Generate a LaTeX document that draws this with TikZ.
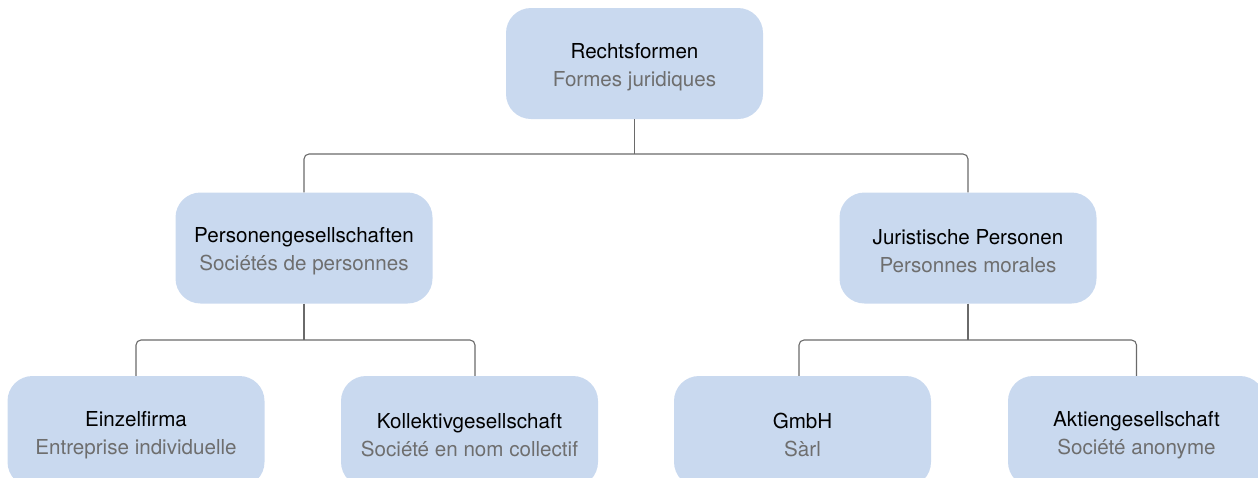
\documentclass[tikz,border=0pt]{standalone}
\usepackage{fontspec}
\setmainfont{TeX Gyre Heros}
\definecolor{boxfill}{HTML}{C9D9EF}
\definecolor{frtext}{HTML}{6E6E6E}
\definecolor{linegray}{HTML}{6A6A6A}
\newcommand{\two}[2]{{\color{black}#1}\\{\color{frtext}#2}}
\begin{document}
\begin{tikzpicture}[x=1pt,y=-1pt,
  formbox/.style={fill=boxfill, draw=none, rounded corners=25pt,
    minimum width=257pt, minimum height=111pt, inner sep=0pt},
  formtext/.style={align=center, inner sep=0pt, yshift=-3.5pt,
    font=\fontsize{20.6}{28}\selectfont},
  conn/.style={draw=linegray, line width=1.1pt, rounded corners=5pt}]
\path[use as bounding box, clip] (0,0) rectangle (1258,477);
\node[formbox] (top) at (634.5,63.5) {};
\node[formbox] (pg) at (304,248) {};
\node[formbox] (jp) at (968,248) {};
\node[formbox] (ef) at (136,431.5) {};
\node[formbox] (kg) at (469.5,431.5) {};
\node[formbox] (gm) at (802.5,431.5) {};
\node[formbox] (ag) at (1136.5,431.5) {};
\node[formtext] (topt) at (top.center) {\two{Rechtsformen}{Formes juridiques}};
\node[formtext] (pgt) at (pg.center) {\two{Personengesellschaften}{Sociétés de personnes}};
\node[formtext] (jpt) at (jp.center) {\two{Juristische Personen}{Personnes morales}};
\node[formtext] (eft) at (ef.center) {\two{Einzelfirma}{Entreprise individuelle}};
\node[formtext] (kgt) at (kg.center) {\two{Kollektivgesellschaft}{Société en nom collectif}};
\node[formtext] (gmt) at (gm.center) {\two{GmbH}{Sàrl}};
\node[formtext] (agt) at (ag.center) {\two{Aktiengesellschaft}{Société anonyme}};
\coordinate (j1) at (634.5,154);
\coordinate (j2) at (304,340);
\coordinate (j3) at (968,340);
\draw[conn] (top.south) -- (j1);
\draw[conn] (pg.north) |- (j1) -| (jp.north);
\draw[conn] (pg.south) -- (j2);
\draw[conn] (ef.north) |- (j2) -| ([xshift=5.5pt]kg.north);
\draw[conn] (jp.south) -- (j3);
\draw[conn] ([xshift=-3.5pt]gm.north) |- (j3) -| (ag.north);
\end{tikzpicture}
\end{document}
